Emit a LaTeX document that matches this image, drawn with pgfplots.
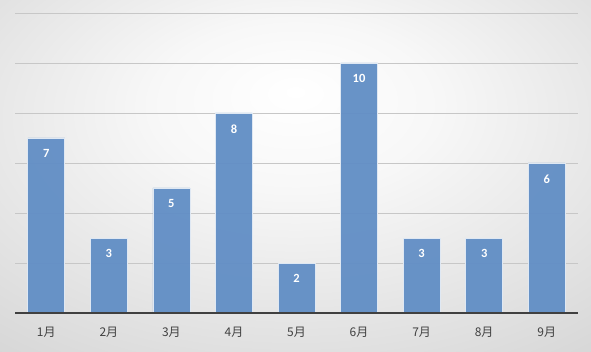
\documentclass[border=0pt]{standalone}
\usepackage{fontspec}
\setmainfont{Carlito}
\newfontfamily\cjk{Noto Sans CJK SC}
\usepackage{pgfplots}
\pgfplotsset{compat=1.18}
\definecolor{barblue}{HTML}{618EC5}
\definecolor{axisdark}{HTML}{404040}
\pgfdeclareradialshading{bg}{\pgfpoint{0bp}{12bp}}{color(0bp)=(white); color(12bp)=(white!97!black); color(45bp)=(black!18); color(75bp)=(black!25)}
\begin{document}
\begin{tikzpicture}[x=1pt,y=1pt]
\shade[shading=bg] (0,0) rectangle (591,351);
\begin{axis}[
  at={(15pt,38pt)}, anchor=south west,
  scale only axis, width=563pt, height=300pt,
  xmin=-0.5, xmax=8.5, ymin=0, ymax=12,
  axis line style={draw=none},
  ytick={2,4,...,12},
  yticklabels={},
  ytick style={draw=none},
  ymajorgrids,
  grid style={draw=black!22, line width=0.8pt},
  xtick=data,
  xticklabels={1月,2月,3月,4月,5月,6月,7月,8月,9月},
  xticklabel style={text=axisdark, font=\cjk\fontsize{12}{14}\selectfont, yshift=-11pt},
  xtick style={draw=none},
  /pgf/number format/assume math mode=true,
  clip=false,
]
\addplot[ybar, bar width=37pt, fill=barblue, fill opacity=0.95, draw=white!80!barblue, line width=0.6pt,
  nodes near coords, every node near coord/.append style={anchor=north, yshift=-8pt, text=white, font=\bfseries\fontsize{12.5}{14}\selectfont, text opacity=1}]
  coordinates {(0,7) (1,3) (2,5) (3,8) (4,2) (5,10) (6,3) (7,3) (8,6)};
\draw[axisdark, line width=2.5pt] (axis cs:-0.5,0) -- (axis cs:8.5,0);
\end{axis}
\end{tikzpicture}
\end{document}
